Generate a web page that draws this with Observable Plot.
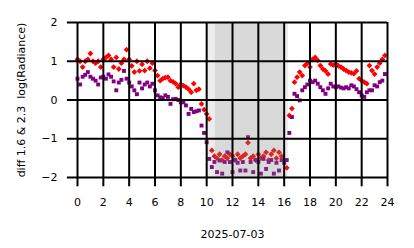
<!DOCTYPE html>
<html>
<head>
<meta charset="utf-8">
<script src="https://cdn.jsdelivr.net/npm/d3@7"></script>
<script src="https://cdn.jsdelivr.net/npm/@observablehq/plot@0.6"></script>
<style>
  body { margin: 0; background: #fff; }
</style>
</head>
<body>
<div id="chart"></div>
<script>
const startHour = 0;
const stepHour = 0.2;
const redValues = [
  1.05, 1.00, 0.85, 1.00, 1.05, 1.20, 1.00, 0.95, 1.00, 0.85,
  1.05, 1.10, 1.15, 1.05, 0.85, 1.10, 0.80, 0.95, 1.05, 1.30,
  1.05, 0.88, 0.72, 1.00, 0.75, 0.92, 0.76, 1.00, 0.82, 0.95,
  0.76, 0.63, 0.50, 0.55, 0.58, 0.59, 0.50, 0.47, 0.42, 0.33,
  0.40, 0.37, 0.33, 0.28, 0.20, 0.42, 0.25, 0.28, -0.10, -0.25,
  -0.36, -0.49, -1.30, -1.45, -1.50, -1.40, -1.55, -1.45, -1.50, -1.40,
  -1.45, -1.55, -1.40, -1.50, -1.45, -1.40, -1.10, -1.50, -1.45, -1.55,
  -1.40, -1.50, -1.45, -1.35, -1.55, -1.40, -1.30, -1.50, -1.35, -1.45,
  -1.55, -1.75, -0.40, -0.22, 0.46, 0.59, 0.72, 0.63, 0.89, 0.95,
  0.85, 1.05, 1.10, 1.02, 0.89, 0.80, 0.75, 0.67, 0.93, 0.90,
  0.93, 0.88, 0.85, 0.80, 0.76, 0.72, 0.70, 0.68, 0.75, 0.55,
  0.50, 0.46, 0.42, 0.89, 0.76, 0.67, 0.85, 0.95, 1.05, 1.15
];
const purpleValues = [
  0.55, 0.40, 0.60, 0.65, 0.72, 0.60, 0.55, 0.50, 0.40, 0.58,
  0.60, 0.55, 0.66, 0.60, 0.48, 0.25, 0.45, 0.52, 0.75, 0.55,
  0.45, 0.35, 0.25, 0.15, 0.45, 0.30, 0.40, 0.45, 0.35, 0.42,
  0.25, 0.12, 0.07, 0.05, 0.12, 0.08, -0.10, 0.02, 0.03, 0.00,
  -0.06, -0.06, -0.14, -0.36, -0.23, -0.31, -0.29, -0.27, -0.66, -0.85,
  -1.09, -1.52, -1.73, -1.60, -1.86, -1.56, -1.90, -1.60, -1.35, -1.60,
  -1.86, -1.55, -1.62, -1.82, -1.60, -1.82, -0.96, -1.60, -1.86, -1.55,
  -1.60, -1.90, -1.52, -1.78, -1.60, -1.55, -1.90, -1.62, -1.82, -1.55,
  -1.62, -1.55, -0.85, -0.44, 0.16, 0.10, -0.01, 0.25, 0.33, 0.40,
  0.50, 0.46, 0.50, 0.42, 0.33, 0.25, 0.16, 0.30, 0.42, 0.35,
  0.33, 0.35, 0.32, 0.30, 0.33, 0.30, 0.38, 0.35, 0.28, 0.20,
  0.12, 0.08, 0.20, 0.25, 0.25, 0.38, 0.35, 0.46, 0.50, 0.67
];
const xTicks = [0, 2, 4, 6, 8, 10, 12, 14, 16, 18, 20, 22, 24];
const yTicks = [-2, -1, 0, 1, 2];
const spanOuter = [10.05, 16.33];
const spanInner = [10.68, 15.94];
const dateLabel = "2025-07-03";
const yLabel = "diff 1.6 & 2.3  log(Radiance)";

const red = redValues.map((v, i) => ({hour: startHour + i * stepHour, value: v}));
const purple = purpleValues.map((v, i) => ({hour: startHour + i * stepHour, value: v}));
const fmt = d => d < 0 ? "\u2212" + Math.abs(d) : String(d);

const chart = Plot.plot({
  width: 414,
  height: 248,
  marginLeft: 77,
  marginRight: 27,
  marginTop: 22,
  marginBottom: 71,
  style: {fontFamily: "DejaVu Sans, sans-serif", fontSize: "11px", color: "#000", background: "#fff"},
  x: {domain: [0, 24]},
  y: {domain: [-2, 2]},
  marks: [
    Plot.dot(red, {x: "hour", y: "value", symbol: "diamond2", r: 2.6, fill: "#ff0000", stroke: "none"}),
    Plot.dot(purple, {x: "hour", y: "value", symbol: "square", r: 2.2, fill: "#800080", stroke: "none"}),
    Plot.rect([{a: spanOuter[0], b: spanOuter[1]}], {x1: "a", x2: "b", y1: -2, y2: 2, fill: "#808080", fillOpacity: 0.15}),
    Plot.rect([{a: spanInner[0], b: spanInner[1]}], {x1: "a", x2: "b", y1: -2, y2: 2, fill: "#808080", fillOpacity: 0.176}),
    // grid lines, extended beyond the frame so they also form the tick marks
    Plot.ruleX(xTicks, {y1: -2.24, y2: 2, stroke: "#000", strokeWidth: 2}),
    Plot.ruleY(yTicks, {x1: -0.78, x2: 24, stroke: "#000", strokeWidth: 2}),
    Plot.axisX({ticks: xTicks, tickSize: 0, tickPadding: 20.5, tickFormat: fmt,
      label: dateLabel, labelAnchor: "center", labelArrow: "none", labelOffset: 60}),
    Plot.axisY({ticks: yTicks, tickSize: 0, tickPadding: 20, tickFormat: fmt,
      label: yLabel, labelAnchor: "center", labelArrow: "none", labelOffset: 60})
  ]
});
document.getElementById("chart").appendChild(chart);
</script>
</body>
</html>
